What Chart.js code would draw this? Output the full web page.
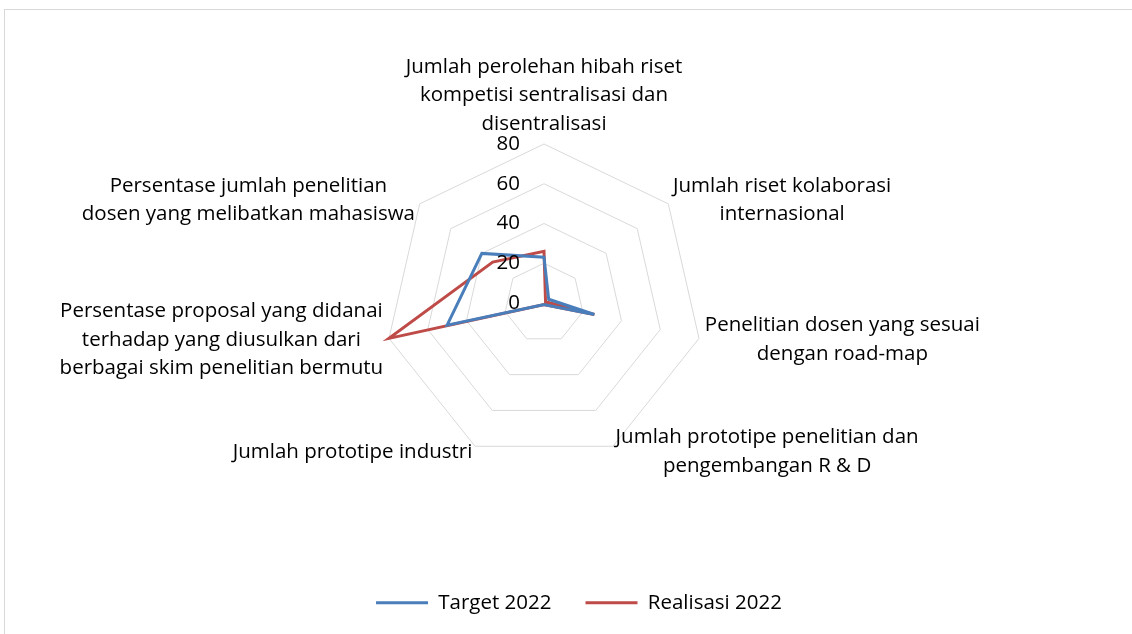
<!DOCTYPE html>
<html>
<head>
<meta charset="utf-8">
<script src="https://cdn.jsdelivr.net/npm/chart.js@4.4.0/dist/chart.umd.min.js"></script>
<style>
  html, body { margin: 0; padding: 0; background: #fff; }
  #wrap { position: relative; width: 1132px; height: 634px; overflow: hidden; }
  #bingkai { position: absolute; left: 4px; top: 9px; width: 1200px; height: 700px; border: 1px solid #d9d9d9; }
  canvas { position: absolute; left: 0; top: 0; }
</style>
</head>
<body>
<div id="wrap">
  <div id="bingkai"></div>
  <canvas id="grafikRadar" width="1132" height="634"></canvas>
</div>
<script>
// Kategori (label sumbu), tiap baris dipisah
const kategori = [
  ['Jumlah perolehan hibah riset', 'kompetisi sentralisasi dan', 'disentralisasi'],
  ['Jumlah riset kolaborasi', 'internasional'],
  ['Penelitian dosen yang sesuai', 'dengan road-map'],
  ['Jumlah prototipe penelitian dan', 'pengembangan R & D'],
  ['Jumlah prototipe industri'],
  ['Persentase proposal yang didanai', 'terhadap yang diusulkan dari', 'berbagai skim penelitian bermutu'],
  ['Persentase jumlah penelitian', 'dosen yang melibatkan mahasiswa']
];
const target2022 = [23, 3, 26, 1, 1, 50, 40];
const realisasi2022 = [26, 1, 26, 1, 1, 80, 33];
const nilaiTick = [0, 20, 40, 60, 80];

const FONT = '"Open Sans"';
const UKURAN = 20.5;
Chart.defaults.font.family = FONT;
Chart.defaults.color = '#000';

// label sumbu dan angka tick digambar sendiri (gaya Excel)
const labelSumbu = {
  id: 'labelSumbu',
  afterDraw(chart) {
    const scale = chart.scales.r;
    const ctx = chart.ctx;
    const tinggiBaris = 28.5;
    ctx.save();
    ctx.font = UKURAN + 'px ' + FONT;
    ctx.fillStyle = '#000';
    ctx.textBaseline = 'middle';
    ctx.textAlign = 'center';
    kategori.forEach((baris, i) => {
      const p = scale.getPointPosition(i, scale.drawingArea + 6);
      const lebar = Math.max(...baris.map(t => ctx.measureText(t).width));
      const tinggi = baris.length * tinggiBaris;
      let tengahX, atas;
      if (Math.abs(p.x - scale.xCenter) < 1) {
        tengahX = p.x;
        atas = p.y - tinggi;
      } else if (p.x > scale.xCenter) {
        tengahX = p.x + lebar / 2;
        atas = p.y - tinggi / 2;
      } else {
        tengahX = p.x - lebar / 2;
        atas = p.y - tinggi / 2;
      }
      baris.forEach((t, j) => ctx.fillText(t, tengahX, atas + tinggiBaris * (j + 0.5)));
    });
    ctx.textAlign = 'right';
    scale.ticks.forEach(t => {
      const y = scale.yCenter - scale.getDistanceFromCenterForValue(t.value);
      ctx.fillText(String(t.value), scale.xCenter - 24, y);
    });
    ctx.restore();
  }
};

new Chart(document.getElementById('grafikRadar'), {
  type: 'radar',
  data: {
    labels: kategori,
    datasets: [
      {
        label: 'Target 2022',
        data: target2022,
        borderColor: '#4a7ebb',
        backgroundColor: '#4a7ebb',
        borderWidth: 3,
        pointRadius: 0,
        fill: false
      },
      {
        label: 'Realisasi 2022',
        data: realisasi2022,
        borderColor: '#be4b48',
        backgroundColor: '#be4b48',
        borderWidth: 3,
        pointRadius: 0,
        fill: false
      }
    ]
  },
  options: {
    responsive: false,
    animation: false,
    layout: { padding: { left: 26, bottom: 11 } },
    plugins: {
      tooltip: { enabled: false },
      legend: {
        position: 'bottom',
        labels: {
          usePointStyle: true,
          pointStyle: 'line',
          pointStyleWidth: 52,
          padding: 34,
          color: '#000',
          font: { size: UKURAN, family: FONT }
        }
      }
    },
    scales: {
      r: {
        min: 0,
        max: 80,
        afterBuildTicks: s => { s.ticks = nilaiTick.map(v => ({ value: v })); },
        afterSetDimensions: s => {
          s.xCenter = 544;
          s.yCenter = 303;
          s.drawingArea = 159;
        },
        ticks: { display: false },
        angleLines: { display: false },
        grid: { color: '#d9d9d9', lineWidth: 1 },
        pointLabels: { display: false }
      }
    }
  },
  plugins: [labelSumbu]
});
</script>
</body>
</html>
